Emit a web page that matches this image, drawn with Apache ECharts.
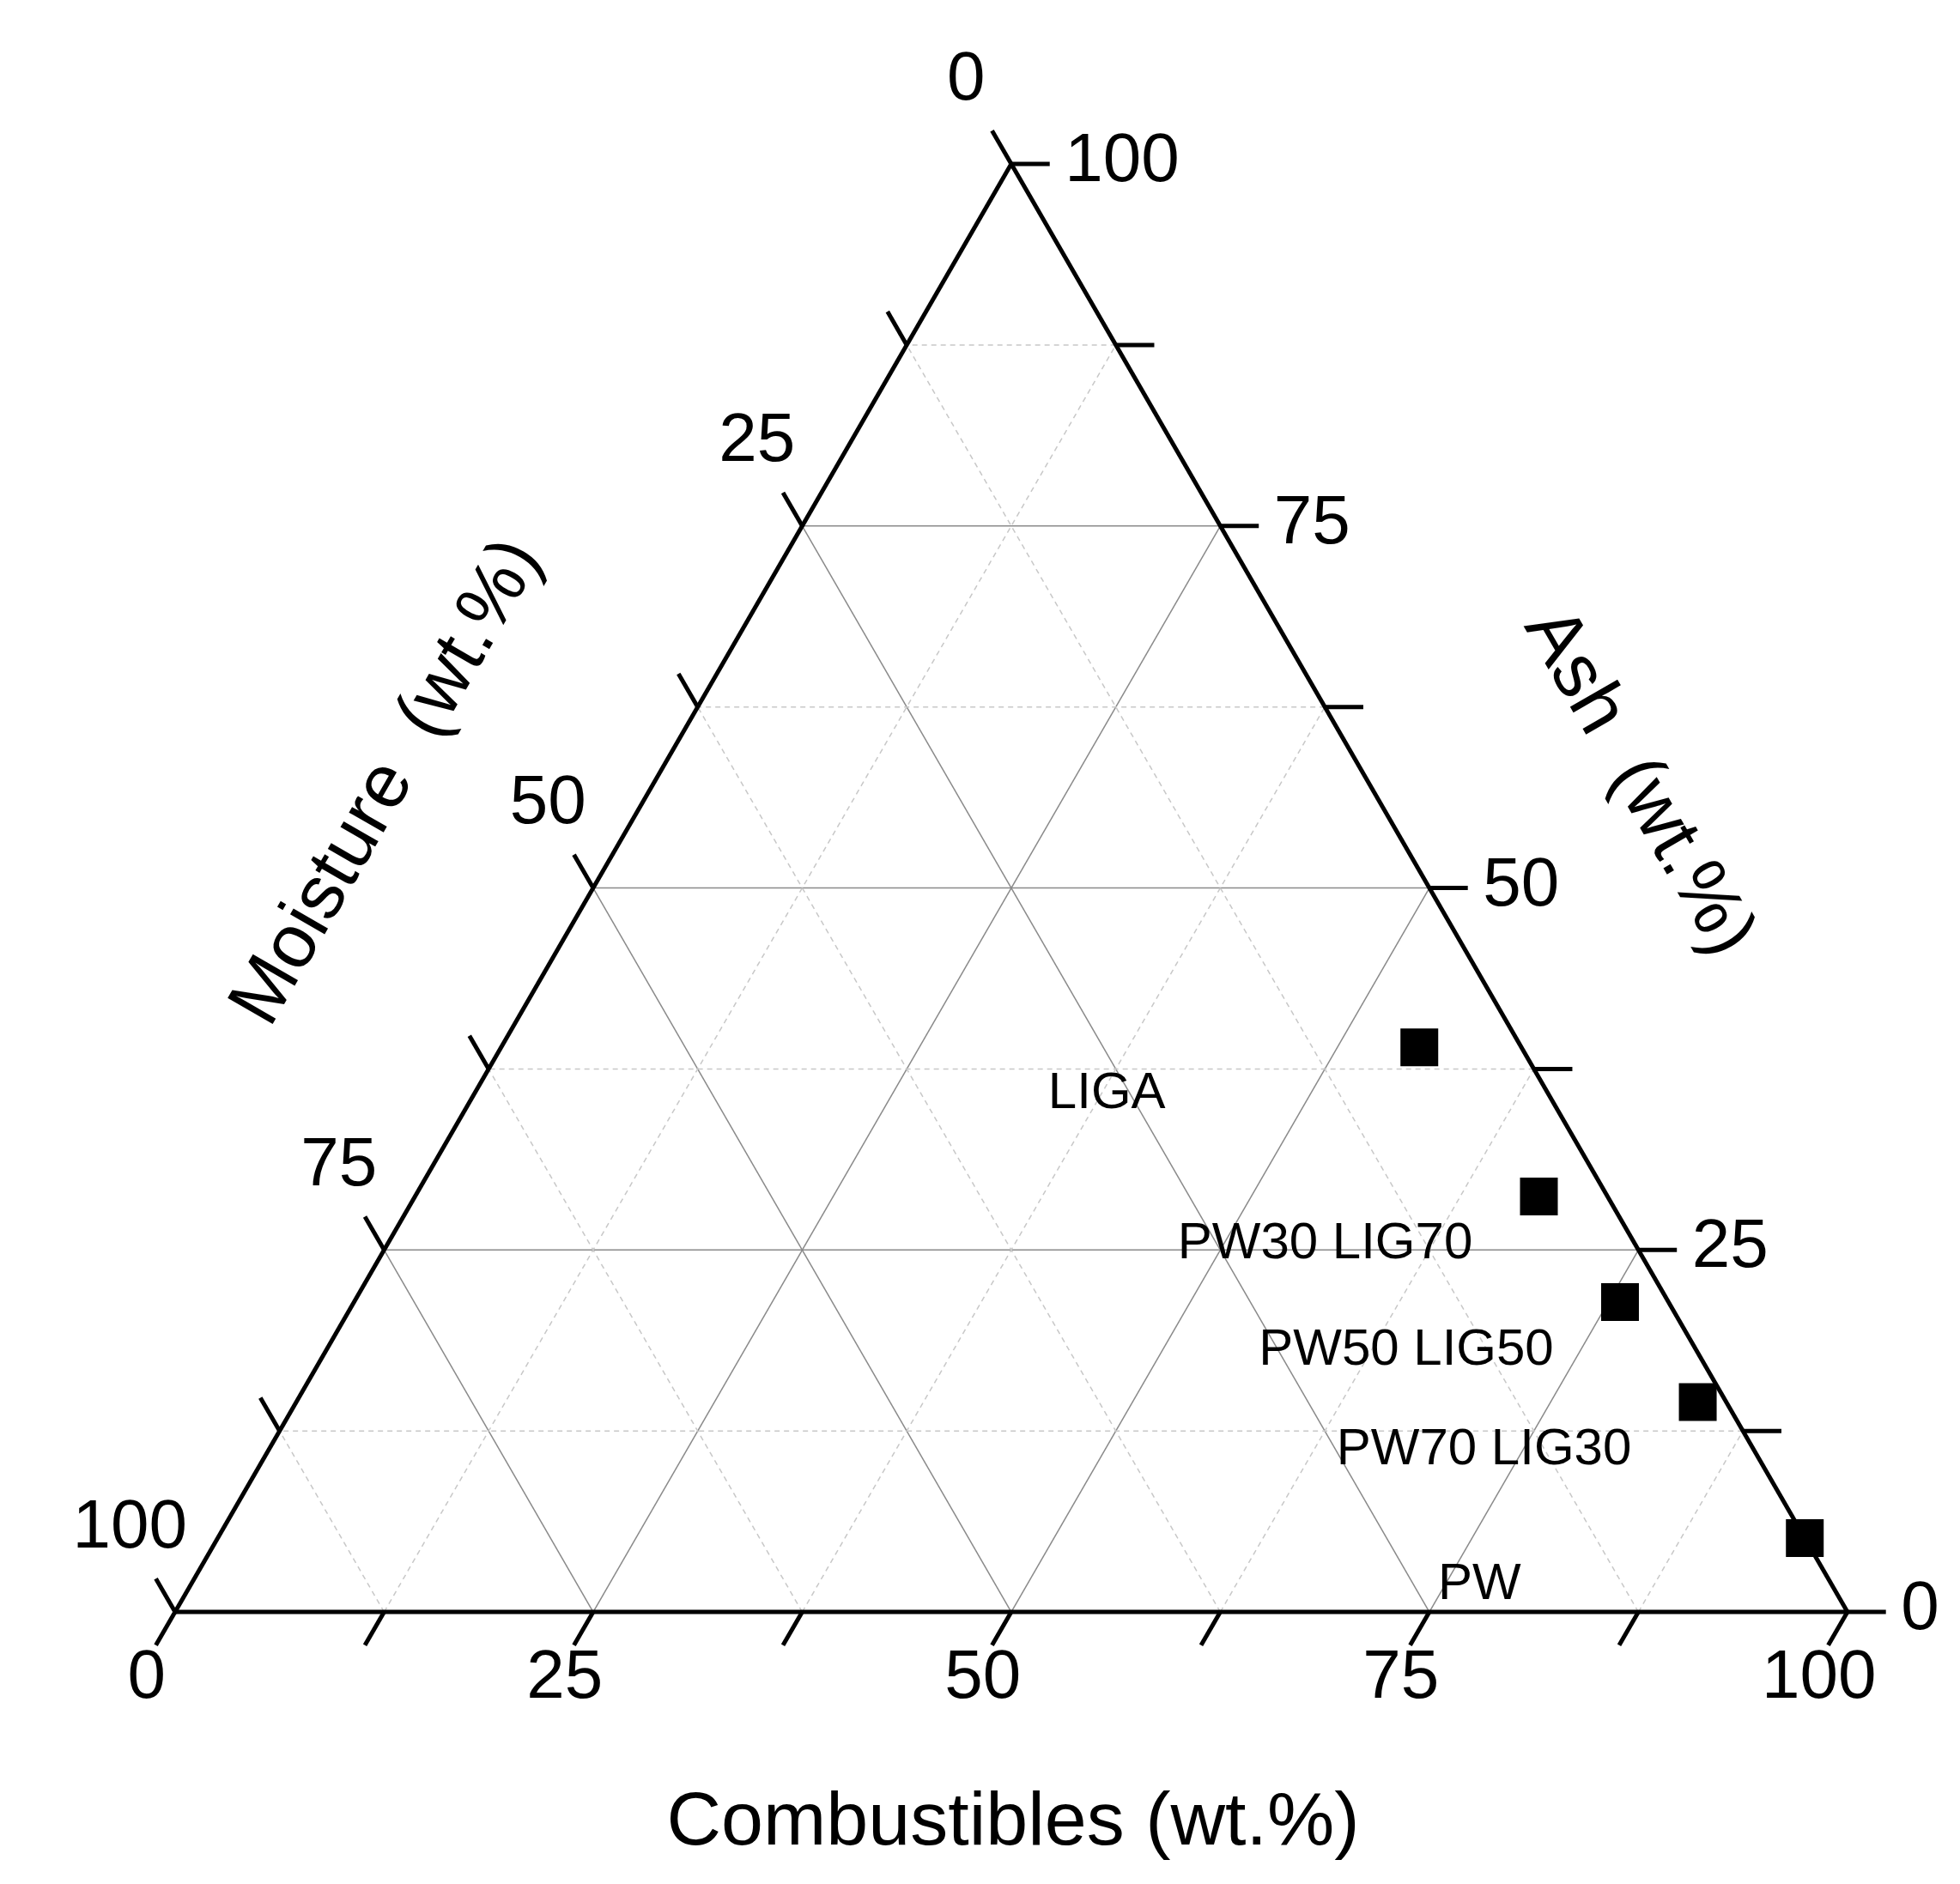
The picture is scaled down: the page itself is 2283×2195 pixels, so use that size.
<!DOCTYPE html>
<html><head><meta charset="utf-8">
<script src="https://cdn.jsdelivr.net/npm/echarts@6/dist/echarts.min.js"></script>
<style>html,body{margin:0;padding:0;background:#fff}#c{width:2283px;height:2195px}</style>
</head><body><div id="c"></div>
<script>
// sample names and composition (wt.%)
var names = ['LIGA', 'PW30 LIG70', 'PW50 LIG50', 'PW70 LIG30', 'PW'];
var combustibles = [54.9, 67.2, 75.7, 83.8, 94.9];
var ash = [39.0, 28.7, 21.4, 14.5, 5.1];
var moisture = [6.1, 4.1, 2.9, 1.7, 0.0];
var majorTicks = [0, 25, 50, 75, 100];
var minorTicks = [12.5, 37.5, 62.5, 87.5];

var H = Math.sqrt(3) / 2;
// ternary (C, A) -> plane
function tp(c, a) { return [c + a / 2, a * H]; }

var chart = echarts.init(document.getElementById('c'));
var series = [];
var font = 'Liberation Sans, Arial, sans-serif';

function seg(p, q, style) {
  series.push({ type: 'line', data: [p, q], symbol: 'none', silent: true,
    lineStyle: style, z: 2 });
}

// grid lines
majorTicks.slice(1, 4).concat(minorTicks).forEach(function (v) {
  var st = minorTicks.indexOf(v) >= 0 ? { color: '#c8c8c8', width: 1.5, type: [6, 5] } : { color: '#8a8a8a', width: 1.5 };
  seg(tp(100 - v, v), tp(0, v), st);          // constant ash
  seg(tp(v, 0), tp(v, 100 - v), st);          // constant combustibles
  seg(tp(100 - v, 0), tp(0, 100 - v), st);    // constant moisture
});

// frame
var frame = { color: '#000', width: 5 };
seg(tp(0, 0), tp(100, 0), frame);
seg(tp(100, 0), tp(0, 100), frame);
seg(tp(0, 100), tp(0, 0), frame);

// ticks
var L = 2.3;
majorTicks.concat(minorTicks).forEach(function (v) {
  var p = tp(v, 0);
  seg(p, [p[0] - 0.5 * L, p[1] - H * L], frame);
  p = tp(100 - v, v);
  seg(p, [p[0] + L, p[1]], frame);
  p = tp(0, 100 - v);
  seg(p, [p[0] - 0.5 * L, p[1] + H * L], frame);
});

// tick labels
function labels(data, align) {
  series.push({ type: 'scatter', symbolSize: 0, silent: true, data: data,
    itemStyle: { opacity: 1 },
    label: { show: true, position: 'inside', align: align, formatter: '{b}', fontSize: 80, fontFamily: font, color: '#000' } });
}
var bot = [], rgt = [], lft = [];
majorTicks.forEach(function (v) {
  var p = tp(v, 0); bot.push({ value: [p[0] - 1.7, p[1] - 4.0], name: String(v) });
  p = tp(100 - v, v); rgt.push({ value: [p[0] + 3.2, p[1] + 0.1], name: String(v) });
  p = tp(0, 100 - v); lft.push({ value: [p[0] - 2.7, p[1] + 5.0], name: String(v) });
});
labels(bot, 'center'); labels(rgt, 'left'); labels(lft, 'center');

// samples
series.push({ type: 'scatter', symbol: 'rect', symbolSize: 44, z: 5,
  itemStyle: { color: '#000', opacity: 1 },
  data: names.map(function (n, i) {
    var p = tp(combustibles[i], ash[i]);
    var off = i === 0 ? [-364, 54] : (i === 4 ? [-379, 54] : [-249, 56]);
    return { value: p, name: n, label: { offset: off } };
  }),
  label: { show: true, position: 'inside', formatter: '{b}', fontSize: 60, fontFamily: font, color: '#000' }
});

chart.setOption({
  animation: false,
  backgroundColor: '#fff',
  grid: { left: 0, right: 0, top: 0, bottom: 0 },
  xAxis: { type: 'value', min: -10.47, max: 106.73, show: false },
  yAxis: { type: 'value', min: -16.27, max: 96.41, show: false },
  graphic: [
    { type: 'text', x: 1180, y: 2125, style: { text: 'Combustibles (wt.%)', font: '88px ' + font, fill: '#000', textAlign: 'center', textVerticalAlign: 'middle' } },
    { type: 'text', x: 452, y: 912, rotation: Math.PI / 3, style: { text: 'Moisture  (wt.%)', font: '88px ' + font, fill: '#000', textAlign: 'center', textVerticalAlign: 'middle' } },
    { type: 'text', x: 1908, y: 912, rotation: -Math.PI / 3, style: { text: 'Ash  (wt.%)', font: '88px ' + font, fill: '#000', textAlign: 'center', textVerticalAlign: 'middle' } }
  ],
  series: series
});
</script></body></html>
